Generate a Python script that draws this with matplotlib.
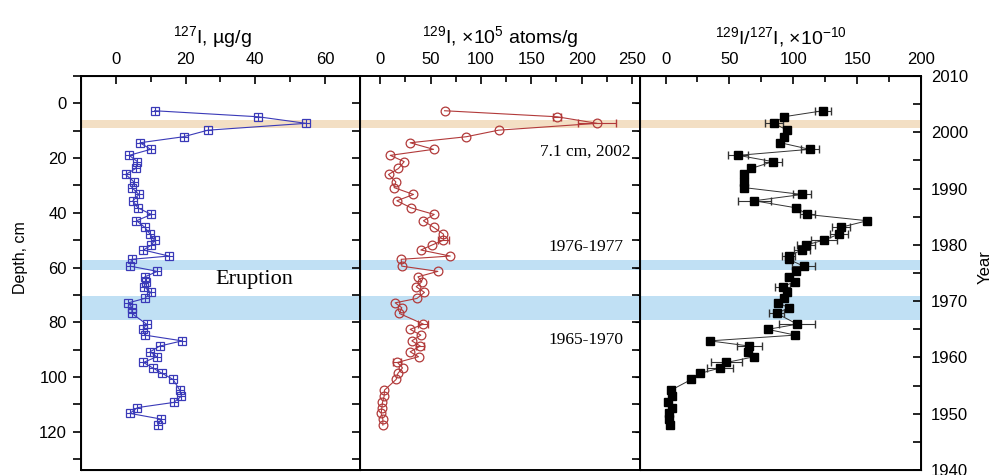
import numpy as np
import matplotlib.pyplot as plt
from matplotlib.ticker import MultipleLocator

plt.rcParams['font.family'] = ['Liberation Sans', 'DejaVu Sans']
plt.rcParams['mathtext.fontset'] = 'custom'
plt.rcParams['mathtext.rm'] = 'Liberation Sans'
plt.rcParams['mathtext.it'] = 'Liberation Sans:italic'

# --- data ---
depth = [2.7, 4.9, 7.3, 9.8, 12.2, 14.4, 16.8, 19.0, 21.3, 23.8, 26.0, 28.7, 30.8,
         33.3, 35.6, 38.2, 40.6, 42.9, 45.3, 47.8, 50.0, 51.8, 53.6, 55.8, 57.0,
         59.5, 61.4, 63.4, 65.2, 67.0, 69.1, 71.3, 72.9, 74.7, 76.8, 80.7, 82.6,
         84.7, 86.8, 88.7, 90.8, 92.6, 94.7, 96.7, 98.7, 100.9, 104.8, 107.0,
         109.3, 111.2, 113.3, 115.4, 117.6]

i127 = [11.1, 40.8, 54.5, 26.4, 19.4, 6.9, 10.0, 3.8, 6.2, 5.7, 2.8, 5.2, 4.6,
        6.6, 4.9, 6.3, 10.2, 5.9, 8.3, 9.8, 11.1, 10.2, 7.9, 15.2, 4.5,
        4.1, 11.9, 8.3, 8.7, 8.1, 10.0, 8.3, 3.6, 4.6, 4.6, 8.8, 7.8,
        8.3, 19.0, 12.6, 9.8, 11.7, 7.9, 10.6, 13.3, 16.4, 18.3, 18.8,
        16.6, 6.2, 4.0, 13.0, 12.0]

i129 = [64, 175.6, 215.4, 117.6, 85.5, 29.8, 53, 10, 23.9, 18.2, 8.3, 15.6, 13.9,
        33.1, 16.6, 30.8, 53.7, 43, 53, 62.9, 62.9, 51.4, 40.4, 69.6, 20.9,
        21.5, 57.3, 37.5, 41.4, 35.8, 44, 36.5, 14.9, 21.5, 19.2, 43, 29.8,
        40.4, 31.5, 39.8, 29.8, 38.1, 17.2, 22.2, 17.6, 15.9, 4.3, 4.0,
        2.3, 1.7, 1.0, 2.7, 2.7]
i129_err = [0, 4, 19, 0, 0, 0, 0, 0, 0, 0, 0, 0, 0,
            0, 0, 0, 0, 0, 0, 0, 5, 0, 0, 0, 0,
            0, 0, 0, 0, 0, 0, 0, 0, 0, 0, 5, 0,
            0, 0, 4, 0, 0, 4, 0, 0, 0, 0, 0,
            0, 0, 0, 0, 0]

ratio = [123.3, 92.6, 84.7, 95.3, 93.1, 90, 112.8, 56.9, 84, 66.9, 61.1, 61.1, 61.7,
         106.8, 69.5, 102.4, 111, 158, 137.2, 135.7, 123.9, 109.7, 106.8, 96.3, 96.3,
         108.1, 101.8, 96.3, 101, 91.8, 95.3, 93.1, 88.4, 96.3, 87.1, 103.1, 80,
         101.6, 34.6, 65.6, 64.3, 69.5, 47.7, 42.8, 27, 20.2, 4.4, 4.7,
         1.8, 5.0, 2.6, 2.6, 3.6]
ratio_err = [6.5, 0, 7, 0, 0, 0, 7, 8, 7, 0, 0, 0, 0,
             7, 13, 3, 6, 0, 7, 7, 10, 7, 6, 5, 0,
             9, 0, 3, 3, 6, 0, 0, 0, 0, 6, 14, 0,
             0, 0, 10, 0, 0, 12, 10, 0, 0, 0, 0,
             0, 0, 0, 0, 0]

orange_band = (6.1, 9.0)
blue_bands = [(57.3, 61.0), (70.5, 79.2)]


def with_err(x, err):
    # keep only points that carry a visible error bar
    sel = [k for k, e in enumerate(err) if e > 0]
    return ([x[k] for k in sel], [depth[k] for k in sel], [err[k] for k in sel])


W, H = 995, 475
fig = plt.figure(figsize=(W / 100, H / 100), dpi=100)
bot, top = 5, 76
hgt = (H - top - bot) / H
ax1 = fig.add_axes([81 / W, bot / H, 279 / W, hgt])
ax2 = fig.add_axes([360 / W, bot / H, 280 / W, hgt])
ax3 = fig.add_axes([640 / W, bot / H, 281 / W, hgt])

blue = '#3a3ab8'
red = '#b23a3a'

# left: 127I
ax1.plot(i127, depth, color=blue, lw=0.8, marker='s', ms=5.5, mfc='none',
         mec=blue, mew=0.9, zorder=2)
ax1.plot(i127, depth, ls='none', marker='+', ms=5.5, mec=blue, mew=0.8, zorder=2)

# middle: 129I
ex, ey, ee = with_err(i129, i129_err)
ax2.errorbar(ex, ey, xerr=ee, fmt='none', ecolor=red, elinewidth=0.8,
             capsize=3, zorder=2)
ax2.plot(i129, depth, color=red, lw=0.8, marker='o', ms=6.3, mfc='none',
         mec=red, mew=0.9, zorder=2)

# right: ratio
ex, ey, ee = with_err(ratio, ratio_err)
ax3.errorbar(ex, ey, xerr=ee, fmt='none', ecolor='#333333', elinewidth=0.8,
             capsize=3, zorder=2)
ax3.plot(ratio, depth, color='#333333', lw=0.7, marker='s', ms=6.3,
         mfc='black', mec='black', zorder=2)

for ax in (ax1, ax2, ax3):
    ax.set_ylim(134, -10)
    ax.axhspan(*orange_band, color='#f3dfc4', lw=0, zorder=0)
    for b in blue_bands:
        ax.axhspan(*b, color='#c0e0f4', lw=0, zorder=0)
    ax.xaxis.tick_top()
    ax.xaxis.set_label_position('top')
    ax.tick_params(axis='x', which='both', direction='in', labelsize=12, pad=6.5,
                   bottom=False, top=True)
    ax.tick_params(axis='x', which='major', length=6, width=1.2)
    ax.tick_params(axis='x', which='minor', length=4, width=1.2)
    ax.yaxis.set_major_locator(MultipleLocator(20))
    ax.yaxis.set_minor_locator(MultipleLocator(10))
    for s in ax.spines.values():
        s.set_linewidth(1.4)

ax1.set_xlim(-10, 70)
ax1.xaxis.set_major_locator(MultipleLocator(20))
ax1.xaxis.set_minor_locator(MultipleLocator(10))
ax1.set_xlabel(r'$^{\mathregular{127}}$I, µg/g', fontsize=14)
ax1.xaxis.set_label_coords(0.47, 1.083)
ax1.tick_params(axis='y', which='both', direction='out', left=True, right=False,
                labelsize=12, length=6, width=1.2, pad=4)
ax1.set_ylabel('Depth, cm', fontsize=11.5)
ax1.yaxis.set_label_coords(-0.19, 0.538)
# inward ticks on the right edge of left panel
ax1r = ax1.twinx()
ax1r.set_ylim(ax1.get_ylim())
ax1r.yaxis.set_major_locator(MultipleLocator(10))
ax1r.tick_params(axis='y', direction='in', length=6, width=1.2, labelright=False)

ax2.set_xlim(-20, 258)
ax2.xaxis.set_major_locator(MultipleLocator(50))
ax2.xaxis.set_minor_locator(MultipleLocator(25))
ax2.set_xlabel(r'$^{\mathregular{129}}$I, ×10$^{\mathregular{5}}$ atoms/g',
               fontsize=14)
ax2.xaxis.set_label_coords(0.5, 1.083)
ax2.tick_params(axis='y', which='both', direction='in', left=False, right=True,
                labelleft=False, length=6, width=1.2)
ax2.yaxis.set_major_locator(MultipleLocator(10))

ax3.set_xlim(-20, 200)
ax3.xaxis.set_major_locator(MultipleLocator(50))
ax3.xaxis.set_minor_locator(MultipleLocator(25))
ax3.set_xlabel(r'$^{\mathregular{129}}$I/$^{\mathregular{127}}$I, ×10$^{\mathregular{-10}}$',
               fontsize=14)
ax3.xaxis.set_label_coords(0.5, 1.083)
ax3.tick_params(axis='y', which='both', left=False, right=False, labelleft=False)
ax3r = ax3.twinx()
ax3r.set_ylim(1940, 2010)
ax3r.yaxis.set_major_locator(MultipleLocator(10))
ax3r.yaxis.set_minor_locator(MultipleLocator(5))
ax3r.tick_params(axis='y', which='both', direction='in', length=6, width=1.2,
                 labelsize=12, pad=7)
ax3r.set_ylabel('Year', fontsize=12)
ax3r.yaxis.set_label_coords(1.2, 0.515)

serif = ['Liberation Serif', 'DejaVu Serif']
ax1.text(39.8, 64.2, 'Eruption', family=serif, fontsize=16, ha='center',
         va='center', zorder=4)
ax2.text(204, 17.7, '7.1 cm, 2002', family=serif, fontsize=12.5, ha='center',
         va='center', zorder=4)
ax2.text(204, 52.5, '1976-1977', family=serif, fontsize=12.5, ha='center',
         va='center', zorder=4)
ax2.text(204, 86.5, '1965-1970', family=serif, fontsize=12.5, ha='center',
         va='center', zorder=4)

fig.savefig('out.png', dpi=100)
